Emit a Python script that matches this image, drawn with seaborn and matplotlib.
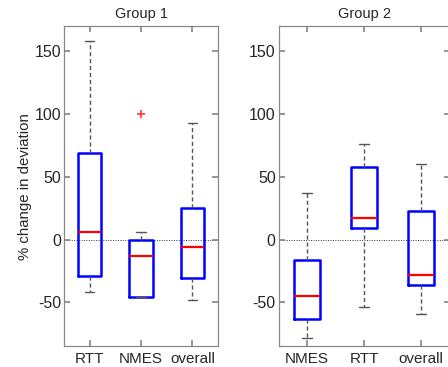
import numpy as np
import pandas as pd
import seaborn as sns
import matplotlib.pyplot as plt

# five-number summaries: lower whisker, Q1, median, Q3, upper whisker
g1_labels = ["RTT", "NMES", "overall"]
g1_lo = [-42, -46, -48]
g1_q1 = [-29, -46, -31]
g1_med = [6, -13, -6]
g1_q3 = [69, 0, 25]
g1_hi = [158, 6, 93]

g2_labels = ["NMES", "RTT", "overall"]
g2_lo = [-78, -54, -59]
g2_q1 = [-63, 9, -36]
g2_med = [-45, 17, -28]
g2_q3 = [-16, 58, 23]
g2_hi = [37, 76, 60]

# outliers (group 1, NMES)
g1_out_label = ["NMES"]
g1_out_value = [100]

sns.set_theme(style="white")
plt.rcParams["font.family"] = ["Liberation Sans", "DejaVu Sans"]
plt.rcParams["axes.unicode_minus"] = False


def summary_frame(labels, lo, q1, med, q3, hi):
    rows = []
    for i, lab in enumerate(labels):
        for v in (lo[i], q1[i], med[i], q3[i], hi[i]):
            rows.append({"cond": lab, "value": v})
    return pd.DataFrame(rows)


fig = plt.figure(figsize=(4.48, 3.67), dpi=100)
ax1 = fig.add_axes([0.1429, 0.0564, 0.3438, 0.8728])
ax2 = fig.add_axes([0.6217, 0.0564, 0.3817, 0.8728])

box_kw = dict(
    width=0.46, whis=(0, 100), fill=False, showfliers=False,
    boxprops=dict(color="#0000ff", linewidth=1.8),
    medianprops=dict(color="#ff0000", linewidth=1.6),
    whiskerprops=dict(color="#555555", linewidth=1.0, linestyle=(0, (3, 2))),
    capprops=dict(color="#555555", linewidth=1.0),
    capwidths=0.18,
)

for ax, labels, data, title in [
    (ax1, g1_labels, (g1_lo, g1_q1, g1_med, g1_q3, g1_hi), "Group 1"),
    (ax2, g2_labels, (g2_lo, g2_q1, g2_med, g2_q3, g2_hi), "Group 2"),
]:
    df = summary_frame(labels, *data)
    ax.axhline(0, color="#333333", linestyle=(0, (1, 1.5)), linewidth=0.7, zorder=0)
    sns.boxplot(data=df, x="cond", y="value", order=labels, ax=ax, **box_kw)
    ax.set_xlim(-0.5, 2.5)
    ax.set_ylim(-85, 170)
    ax.set_yticks([-50, 0, 50, 100, 150])
    ax.set_xlabel("")
    ax.set_ylabel("")
    ax.set_title(title, fontsize=10.5, color="#262626", pad=6)
    ax.tick_params(axis="both", which="both", direction="in", length=4,
                   color="#888888", labelcolor="#262626",
                   top=True, right=True, bottom=True, left=True)
    ax.tick_params(axis="y", labelsize=11.5, pad=2)
    ax.tick_params(axis="x", labelsize=11, pad=4)
    for s in ax.spines.values():
        s.set_color("#888888")
        s.set_linewidth(0.9)

out = pd.DataFrame({"cond": g1_out_label, "value": g1_out_value})
ax1.plot([g1_labels.index(c) for c in out["cond"]], out["value"], marker="+",
         color="#ff3333", markersize=6, linestyle="none", markeredgewidth=1.2)

ax1.set_ylabel("% change in deviation", fontsize=10.8, color="#262626", labelpad=2)

fig.savefig("out.png", dpi=100)
